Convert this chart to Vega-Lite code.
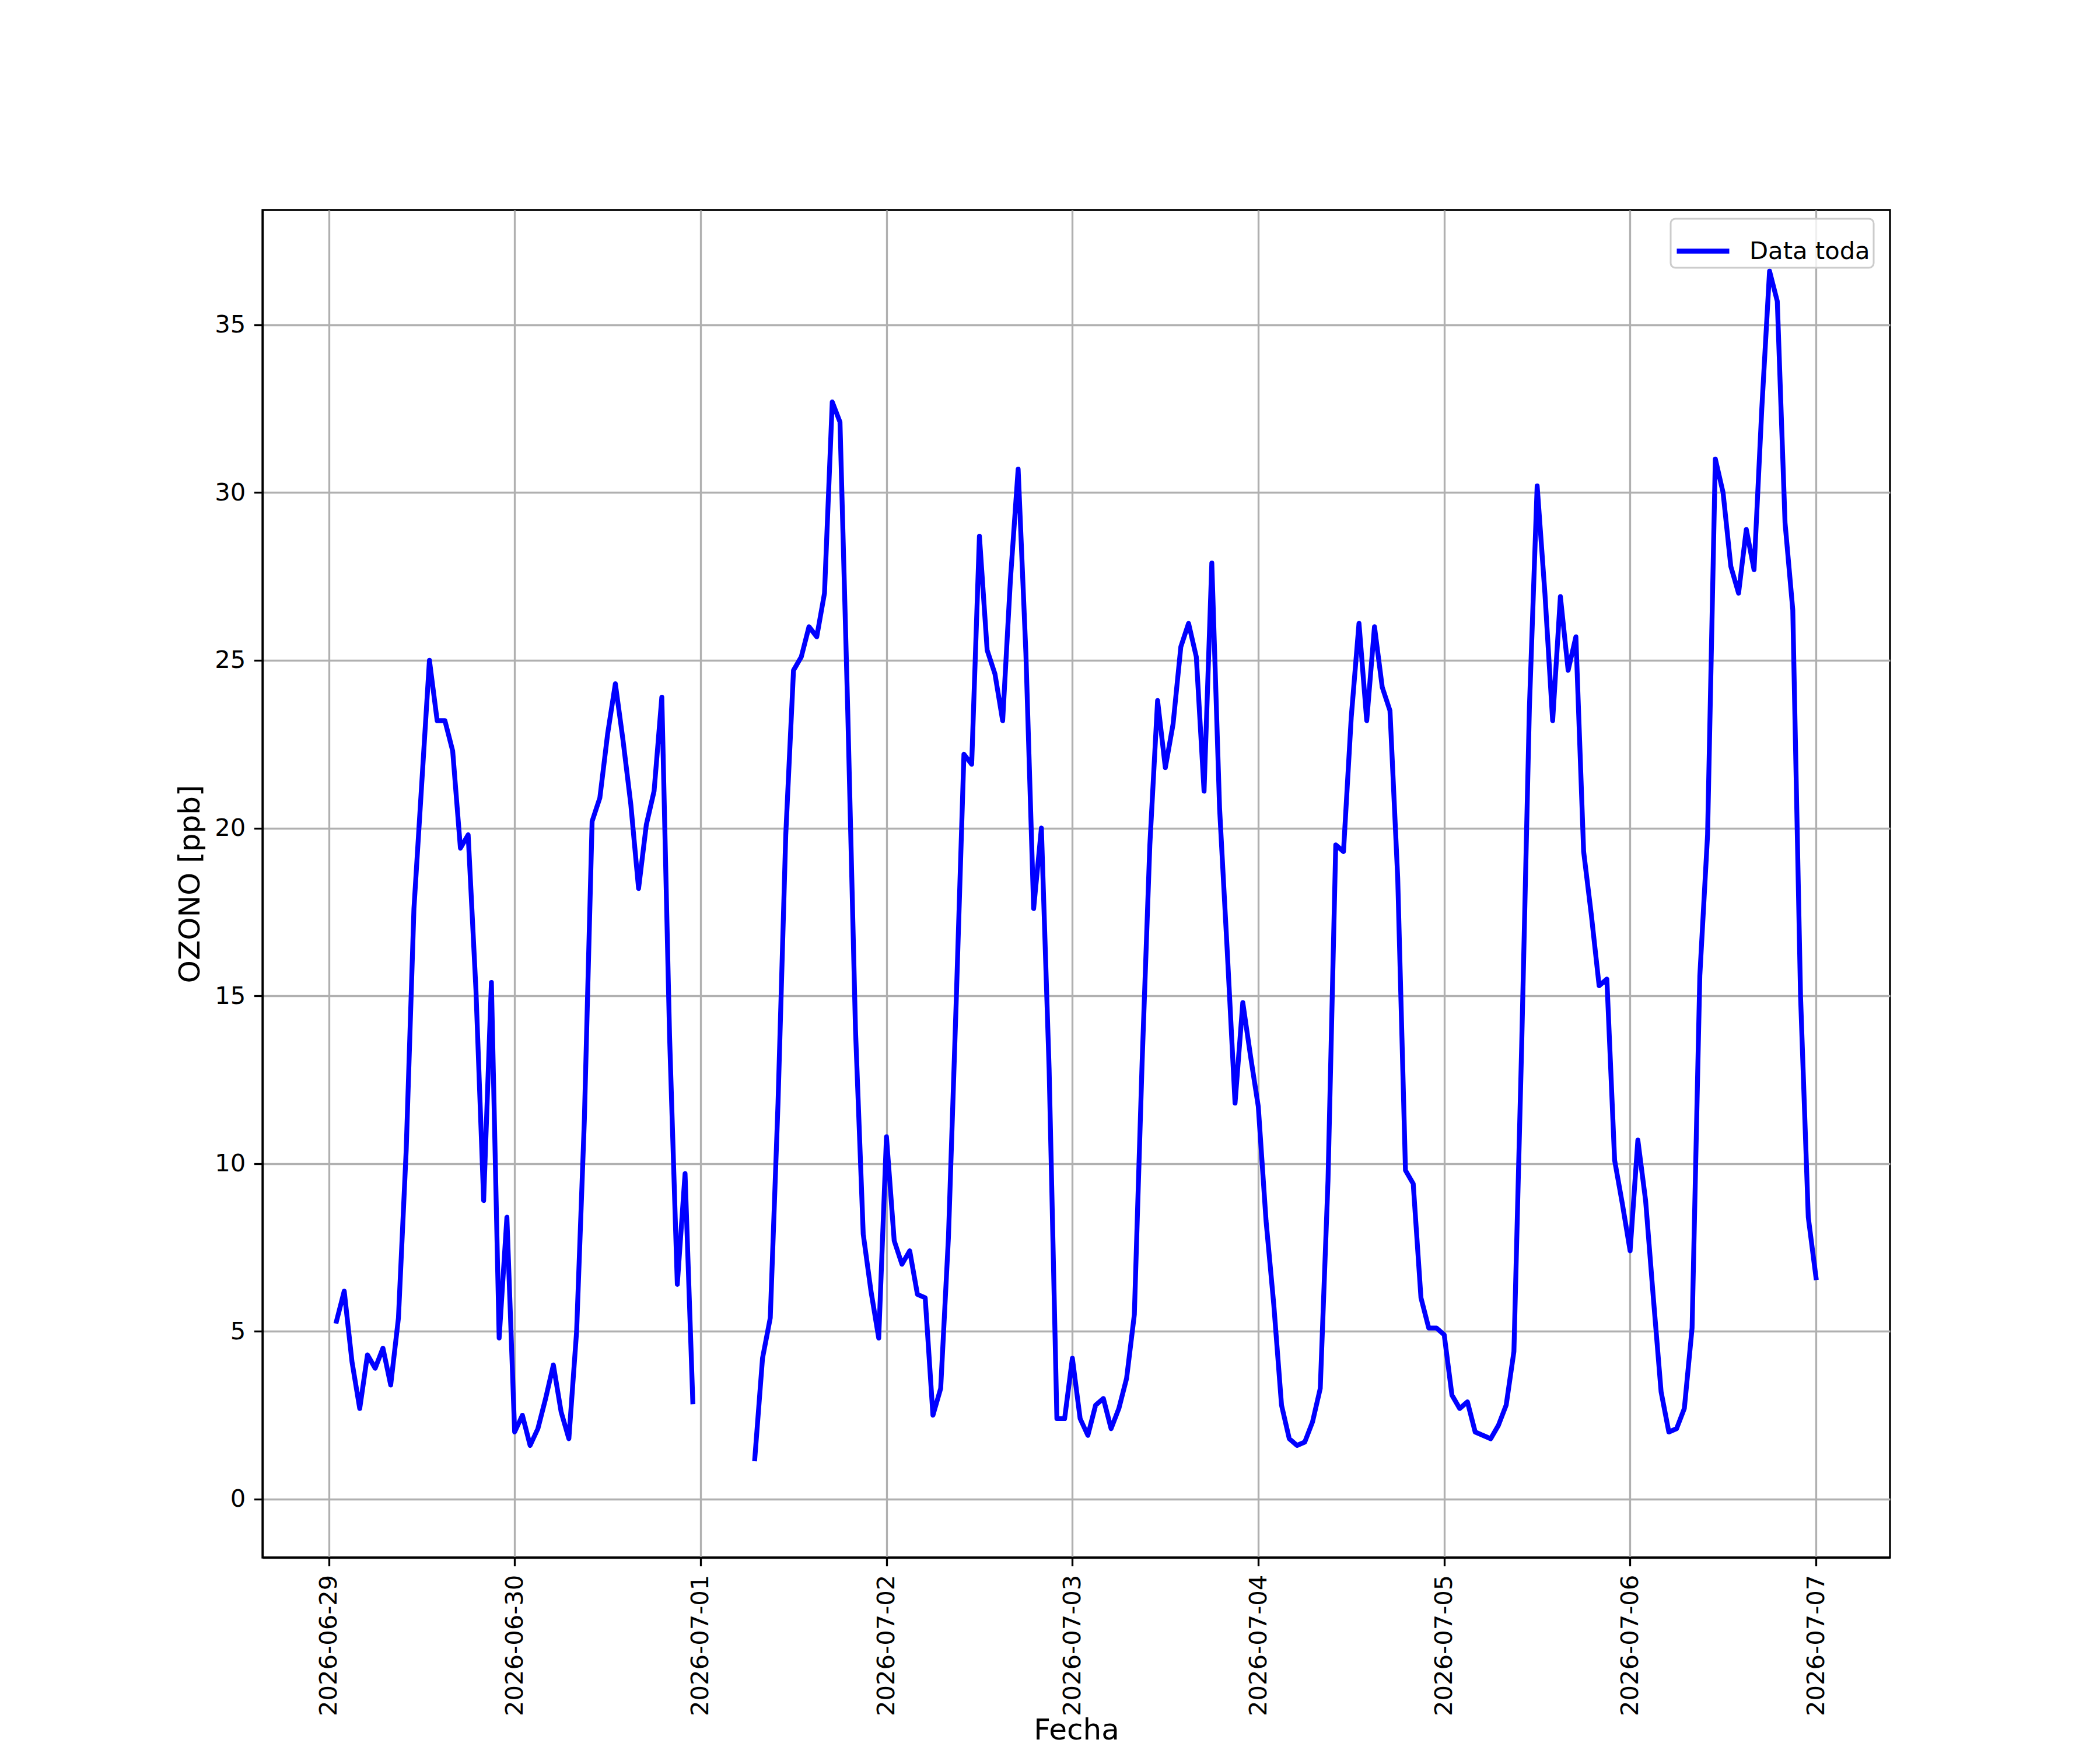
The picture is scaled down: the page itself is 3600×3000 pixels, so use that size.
{
  "$schema": "https://vega.github.io/schema/vega-lite/v6.json",
  "autosize": {"type": "none"},
  "padding": {"left": 450, "top": 360, "right": 360, "bottom": 330},
  "width": 2790,
  "height": 2310,
  "background": "white",
  "data": {
    "values": [
      {"fecha": "2026-06-29T01:00:00", "ozono": 5.3},
      {"fecha": "2026-06-29T02:00:00", "ozono": 6.2},
      {"fecha": "2026-06-29T03:00:00", "ozono": 4.1},
      {"fecha": "2026-06-29T04:00:00", "ozono": 2.7},
      {"fecha": "2026-06-29T05:00:00", "ozono": 4.3},
      {"fecha": "2026-06-29T06:00:00", "ozono": 3.9},
      {"fecha": "2026-06-29T07:00:00", "ozono": 4.5},
      {"fecha": "2026-06-29T08:00:00", "ozono": 3.4},
      {"fecha": "2026-06-29T09:00:00", "ozono": 5.4},
      {"fecha": "2026-06-29T10:00:00", "ozono": 10.4},
      {"fecha": "2026-06-29T11:00:00", "ozono": 17.6},
      {"fecha": "2026-06-29T12:00:00", "ozono": 21.3},
      {"fecha": "2026-06-29T13:00:00", "ozono": 25.0},
      {"fecha": "2026-06-29T14:00:00", "ozono": 23.2},
      {"fecha": "2026-06-29T15:00:00", "ozono": 23.2},
      {"fecha": "2026-06-29T16:00:00", "ozono": 22.3},
      {"fecha": "2026-06-29T17:00:00", "ozono": 19.4},
      {"fecha": "2026-06-29T18:00:00", "ozono": 19.8},
      {"fecha": "2026-06-29T19:00:00", "ozono": 15.2},
      {"fecha": "2026-06-29T20:00:00", "ozono": 8.9},
      {"fecha": "2026-06-29T21:00:00", "ozono": 15.4},
      {"fecha": "2026-06-29T22:00:00", "ozono": 4.8},
      {"fecha": "2026-06-29T23:00:00", "ozono": 8.4},
      {"fecha": "2026-06-30T00:00:00", "ozono": 2.0},
      {"fecha": "2026-06-30T01:00:00", "ozono": 2.5},
      {"fecha": "2026-06-30T02:00:00", "ozono": 1.6},
      {"fecha": "2026-06-30T03:00:00", "ozono": 2.1},
      {"fecha": "2026-06-30T04:00:00", "ozono": 3.0},
      {"fecha": "2026-06-30T05:00:00", "ozono": 4.0},
      {"fecha": "2026-06-30T06:00:00", "ozono": 2.6},
      {"fecha": "2026-06-30T07:00:00", "ozono": 1.8},
      {"fecha": "2026-06-30T08:00:00", "ozono": 5.0},
      {"fecha": "2026-06-30T09:00:00", "ozono": 11.3},
      {"fecha": "2026-06-30T10:00:00", "ozono": 20.2},
      {"fecha": "2026-06-30T11:00:00", "ozono": 20.9},
      {"fecha": "2026-06-30T12:00:00", "ozono": 22.8},
      {"fecha": "2026-06-30T13:00:00", "ozono": 24.3},
      {"fecha": "2026-06-30T14:00:00", "ozono": 22.6},
      {"fecha": "2026-06-30T15:00:00", "ozono": 20.7},
      {"fecha": "2026-06-30T16:00:00", "ozono": 18.2},
      {"fecha": "2026-06-30T17:00:00", "ozono": 20.1},
      {"fecha": "2026-06-30T18:00:00", "ozono": 21.1},
      {"fecha": "2026-06-30T19:00:00", "ozono": 23.9},
      {"fecha": "2026-06-30T20:00:00", "ozono": 13.8},
      {"fecha": "2026-06-30T21:00:00", "ozono": 6.4},
      {"fecha": "2026-06-30T22:00:00", "ozono": 9.7},
      {"fecha": "2026-06-30T23:00:00", "ozono": 2.9},
      {"fecha": "2026-07-01T00:00:00", "ozono": null},
      {"fecha": "2026-07-01T01:00:00", "ozono": null},
      {"fecha": "2026-07-01T02:00:00", "ozono": null},
      {"fecha": "2026-07-01T03:00:00", "ozono": null},
      {"fecha": "2026-07-01T04:00:00", "ozono": null},
      {"fecha": "2026-07-01T05:00:00", "ozono": null},
      {"fecha": "2026-07-01T06:00:00", "ozono": null},
      {"fecha": "2026-07-01T07:00:00", "ozono": 1.2},
      {"fecha": "2026-07-01T08:00:00", "ozono": 4.2},
      {"fecha": "2026-07-01T09:00:00", "ozono": 5.4},
      {"fecha": "2026-07-01T10:00:00", "ozono": 11.8},
      {"fecha": "2026-07-01T11:00:00", "ozono": 19.8},
      {"fecha": "2026-07-01T12:00:00", "ozono": 24.7},
      {"fecha": "2026-07-01T13:00:00", "ozono": 25.1},
      {"fecha": "2026-07-01T14:00:00", "ozono": 26.0},
      {"fecha": "2026-07-01T15:00:00", "ozono": 25.7},
      {"fecha": "2026-07-01T16:00:00", "ozono": 27.0},
      {"fecha": "2026-07-01T17:00:00", "ozono": 32.7},
      {"fecha": "2026-07-01T18:00:00", "ozono": 32.1},
      {"fecha": "2026-07-01T19:00:00", "ozono": 23.5},
      {"fecha": "2026-07-01T20:00:00", "ozono": 14.0},
      {"fecha": "2026-07-01T21:00:00", "ozono": 7.9},
      {"fecha": "2026-07-01T22:00:00", "ozono": 6.2},
      {"fecha": "2026-07-01T23:00:00", "ozono": 4.8},
      {"fecha": "2026-07-02T00:00:00", "ozono": 10.8},
      {"fecha": "2026-07-02T01:00:00", "ozono": 7.7},
      {"fecha": "2026-07-02T02:00:00", "ozono": 7.0},
      {"fecha": "2026-07-02T03:00:00", "ozono": 7.4},
      {"fecha": "2026-07-02T04:00:00", "ozono": 6.1},
      {"fecha": "2026-07-02T05:00:00", "ozono": 6.0},
      {"fecha": "2026-07-02T06:00:00", "ozono": 2.5},
      {"fecha": "2026-07-02T07:00:00", "ozono": 3.3},
      {"fecha": "2026-07-02T08:00:00", "ozono": 7.8},
      {"fecha": "2026-07-02T09:00:00", "ozono": 14.8},
      {"fecha": "2026-07-02T10:00:00", "ozono": 22.2},
      {"fecha": "2026-07-02T11:00:00", "ozono": 21.9},
      {"fecha": "2026-07-02T12:00:00", "ozono": 28.7},
      {"fecha": "2026-07-02T13:00:00", "ozono": 25.3},
      {"fecha": "2026-07-02T14:00:00", "ozono": 24.6},
      {"fecha": "2026-07-02T15:00:00", "ozono": 23.2},
      {"fecha": "2026-07-02T16:00:00", "ozono": 27.4},
      {"fecha": "2026-07-02T17:00:00", "ozono": 30.7},
      {"fecha": "2026-07-02T18:00:00", "ozono": 25.2},
      {"fecha": "2026-07-02T19:00:00", "ozono": 17.6},
      {"fecha": "2026-07-02T20:00:00", "ozono": 20.0},
      {"fecha": "2026-07-02T21:00:00", "ozono": 12.8},
      {"fecha": "2026-07-02T22:00:00", "ozono": 2.4},
      {"fecha": "2026-07-02T23:00:00", "ozono": 2.4},
      {"fecha": "2026-07-03T00:00:00", "ozono": 4.2},
      {"fecha": "2026-07-03T01:00:00", "ozono": 2.4},
      {"fecha": "2026-07-03T02:00:00", "ozono": 1.9},
      {"fecha": "2026-07-03T03:00:00", "ozono": 2.8},
      {"fecha": "2026-07-03T04:00:00", "ozono": 3.0},
      {"fecha": "2026-07-03T05:00:00", "ozono": 2.1},
      {"fecha": "2026-07-03T06:00:00", "ozono": 2.7},
      {"fecha": "2026-07-03T07:00:00", "ozono": 3.6},
      {"fecha": "2026-07-03T08:00:00", "ozono": 5.5},
      {"fecha": "2026-07-03T09:00:00", "ozono": 13.0},
      {"fecha": "2026-07-03T10:00:00", "ozono": 19.5},
      {"fecha": "2026-07-03T11:00:00", "ozono": 23.8},
      {"fecha": "2026-07-03T12:00:00", "ozono": 21.8},
      {"fecha": "2026-07-03T13:00:00", "ozono": 23.1},
      {"fecha": "2026-07-03T14:00:00", "ozono": 25.4},
      {"fecha": "2026-07-03T15:00:00", "ozono": 26.1},
      {"fecha": "2026-07-03T16:00:00", "ozono": 25.1},
      {"fecha": "2026-07-03T17:00:00", "ozono": 21.1},
      {"fecha": "2026-07-03T18:00:00", "ozono": 27.9},
      {"fecha": "2026-07-03T19:00:00", "ozono": 20.6},
      {"fecha": "2026-07-03T20:00:00", "ozono": 16.3},
      {"fecha": "2026-07-03T21:00:00", "ozono": 11.8},
      {"fecha": "2026-07-03T22:00:00", "ozono": 14.8},
      {"fecha": "2026-07-03T23:00:00", "ozono": 13.2},
      {"fecha": "2026-07-04T00:00:00", "ozono": 11.7},
      {"fecha": "2026-07-04T01:00:00", "ozono": 8.3},
      {"fecha": "2026-07-04T02:00:00", "ozono": 5.8},
      {"fecha": "2026-07-04T03:00:00", "ozono": 2.8},
      {"fecha": "2026-07-04T04:00:00", "ozono": 1.8},
      {"fecha": "2026-07-04T05:00:00", "ozono": 1.6},
      {"fecha": "2026-07-04T06:00:00", "ozono": 1.7},
      {"fecha": "2026-07-04T07:00:00", "ozono": 2.3},
      {"fecha": "2026-07-04T08:00:00", "ozono": 3.3},
      {"fecha": "2026-07-04T09:00:00", "ozono": 9.5},
      {"fecha": "2026-07-04T10:00:00", "ozono": 19.5},
      {"fecha": "2026-07-04T11:00:00", "ozono": 19.3},
      {"fecha": "2026-07-04T12:00:00", "ozono": 23.3},
      {"fecha": "2026-07-04T13:00:00", "ozono": 26.1},
      {"fecha": "2026-07-04T14:00:00", "ozono": 23.2},
      {"fecha": "2026-07-04T15:00:00", "ozono": 26.0},
      {"fecha": "2026-07-04T16:00:00", "ozono": 24.2},
      {"fecha": "2026-07-04T17:00:00", "ozono": 23.5},
      {"fecha": "2026-07-04T18:00:00", "ozono": 18.5},
      {"fecha": "2026-07-04T19:00:00", "ozono": 9.8},
      {"fecha": "2026-07-04T20:00:00", "ozono": 9.4},
      {"fecha": "2026-07-04T21:00:00", "ozono": 6.0},
      {"fecha": "2026-07-04T22:00:00", "ozono": 5.1},
      {"fecha": "2026-07-04T23:00:00", "ozono": 5.1},
      {"fecha": "2026-07-05T00:00:00", "ozono": 4.9},
      {"fecha": "2026-07-05T01:00:00", "ozono": 3.1},
      {"fecha": "2026-07-05T02:00:00", "ozono": 2.7},
      {"fecha": "2026-07-05T03:00:00", "ozono": 2.9},
      {"fecha": "2026-07-05T04:00:00", "ozono": 2.0},
      {"fecha": "2026-07-05T05:00:00", "ozono": 1.9},
      {"fecha": "2026-07-05T06:00:00", "ozono": 1.8},
      {"fecha": "2026-07-05T07:00:00", "ozono": 2.2},
      {"fecha": "2026-07-05T08:00:00", "ozono": 2.8},
      {"fecha": "2026-07-05T09:00:00", "ozono": 4.4},
      {"fecha": "2026-07-05T10:00:00", "ozono": 13.5},
      {"fecha": "2026-07-05T11:00:00", "ozono": 23.6},
      {"fecha": "2026-07-05T12:00:00", "ozono": 30.2},
      {"fecha": "2026-07-05T13:00:00", "ozono": 27.0},
      {"fecha": "2026-07-05T14:00:00", "ozono": 23.2},
      {"fecha": "2026-07-05T15:00:00", "ozono": 26.9},
      {"fecha": "2026-07-05T16:00:00", "ozono": 24.7},
      {"fecha": "2026-07-05T17:00:00", "ozono": 25.7},
      {"fecha": "2026-07-05T18:00:00", "ozono": 19.3},
      {"fecha": "2026-07-05T19:00:00", "ozono": 17.4},
      {"fecha": "2026-07-05T20:00:00", "ozono": 15.3},
      {"fecha": "2026-07-05T21:00:00", "ozono": 15.5},
      {"fecha": "2026-07-05T22:00:00", "ozono": 10.1},
      {"fecha": "2026-07-05T23:00:00", "ozono": 8.8},
      {"fecha": "2026-07-06T00:00:00", "ozono": 7.4},
      {"fecha": "2026-07-06T01:00:00", "ozono": 10.7},
      {"fecha": "2026-07-06T02:00:00", "ozono": 8.9},
      {"fecha": "2026-07-06T03:00:00", "ozono": 6.0},
      {"fecha": "2026-07-06T04:00:00", "ozono": 3.2},
      {"fecha": "2026-07-06T05:00:00", "ozono": 2.0},
      {"fecha": "2026-07-06T06:00:00", "ozono": 2.1},
      {"fecha": "2026-07-06T07:00:00", "ozono": 2.7},
      {"fecha": "2026-07-06T08:00:00", "ozono": 5.1},
      {"fecha": "2026-07-06T09:00:00", "ozono": 15.6},
      {"fecha": "2026-07-06T10:00:00", "ozono": 19.8},
      {"fecha": "2026-07-06T11:00:00", "ozono": 31.0},
      {"fecha": "2026-07-06T12:00:00", "ozono": 30.0},
      {"fecha": "2026-07-06T13:00:00", "ozono": 27.8},
      {"fecha": "2026-07-06T14:00:00", "ozono": 27.0},
      {"fecha": "2026-07-06T15:00:00", "ozono": 28.9},
      {"fecha": "2026-07-06T16:00:00", "ozono": 27.7},
      {"fecha": "2026-07-06T17:00:00", "ozono": 32.5},
      {"fecha": "2026-07-06T18:00:00", "ozono": 36.6},
      {"fecha": "2026-07-06T19:00:00", "ozono": 35.7},
      {"fecha": "2026-07-06T20:00:00", "ozono": 29.1},
      {"fecha": "2026-07-06T21:00:00", "ozono": 26.5},
      {"fecha": "2026-07-06T22:00:00", "ozono": 15.0},
      {"fecha": "2026-07-06T23:00:00", "ozono": 8.4},
      {"fecha": "2026-07-07T00:00:00", "ozono": 6.6}
    ]
  },
  "mark": {
    "type": "line",
    "strokeWidth": 8.3,
    "strokeJoin": "round",
    "strokeCap": "square",
    "invalid": "break-paths-show-domains"
  },
  "encoding": {
    "x": {
      "field": "fecha",
      "type": "temporal",
      "title": "Fecha",
      "scale": {
        "domain": [
          {"year": 2026, "month": 6, "date": 28, "hours": 15, "minutes": 27},
          {"year": 2026, "month": 7, "date": 7, "hours": 9, "minutes": 33}
        ],
        "nice": false
      },
      "axis": {
        "values": [
          {"year": 2026, "month": 6, "date": 29},
          {"year": 2026, "month": 6, "date": 30},
          {"year": 2026, "month": 7, "date": 1},
          {"year": 2026, "month": 7, "date": 2},
          {"year": 2026, "month": 7, "date": 3},
          {"year": 2026, "month": 7, "date": 4},
          {"year": 2026, "month": 7, "date": 5},
          {"year": 2026, "month": 7, "date": 6},
          {"year": 2026, "month": 7, "date": 7}
        ],
        "format": "%Y-%m-%d",
        "labelAngle": 270,
        "titleY": 296,
        "titleBaseline": "middle"
      }
    },
    "y": {
      "field": "ozono",
      "type": "quantitative",
      "title": "OZONO [ppb]",
      "scale": {"domain": [-1.74, 38.42], "nice": false, "zero": false},
      "axis": {"values": [0, 5, 10, 15, 20, 25, 30, 35], "titlePadding": 16}
    },
    "color": {
      "datum": "Data toda",
      "type": "nominal",
      "scale": {"range": ["blue"]},
      "legend": {
        "title": null,
        "orient": "none",
        "legendX": 2414,
        "legendY": 15,
        "symbolType": "stroke",
        "symbolSize": 8100,
        "symbolStrokeWidth": 8.3,
        "labelOffset": 30,
        "padding": 6,
        "labelLimit": 0,
        "strokeColor": "#cccccc",
        "fillColor": "rgba(255,255,255,0.8)",
        "cornerRadius": 8
      }
    }
  },
  "config": {
    "font": "DejaVu Sans",
    "view": {"stroke": "black", "strokeWidth": 3.3},
    "axis": {
      "labelFont": "DejaVu Sans",
      "labelFontSize": 41.7,
      "labelColor": "black",
      "labelPadding": 14.6,
      "labelLimit": 0,
      "tickSize": 14.6,
      "tickWidth": 3.3,
      "tickColor": "black",
      "domainColor": "black",
      "domainWidth": 3.3,
      "grid": true,
      "gridColor": "#b0b0b0",
      "gridWidth": 3.3,
      "titleFont": "DejaVu Sans",
      "titleFontSize": 50,
      "titleFontWeight": "normal",
      "titleColor": "black",
      "labelOverlap": false,
      "labelFlush": false
    },
    "legend": {
      "labelFont": "DejaVu Sans",
      "labelFontSize": 41.7,
      "labelColor": "black",
      "strokeWidth": 3
    }
  }
}
